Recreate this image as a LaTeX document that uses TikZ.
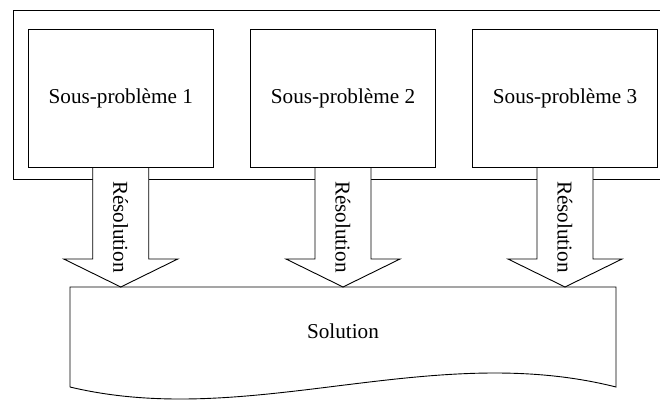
\documentclass[tikz,border=0pt]{standalone}
\usepackage{fontspec}
\setmainfont{Liberation Serif}
\begin{document}
\begin{tikzpicture}[x=1pt, y=-1pt,
    every node/.style={font=\fontsize{21.2}{25}\selectfont},
    sousprob/.style={draw, line width=0.9pt, minimum width=184.5pt, minimum height=138pt, inner sep=0pt},
    fleche/.style={draw, line width=0.9pt, fill=white}]
    \useasboundingbox (0,0) rectangle (660,399);

    % 外框
    \draw[line width=0.9pt] (690,10) -- (13,10) -- (13,179.5) -- (690,179.5);

    % 定義解答的位置
    \coordinate (SolNW) at (70,287);
    \coordinate (SolNE) at (616,287);
    \coordinate (SolSW) at (70,387);
    \coordinate (SolSE) at (616,387);

    % 定義子問題的位置
    \coordinate (C1) at (120.75,98);
    \coordinate (C2) at (343,98);
    \coordinate (C3) at (565,98);

    % 畫出箭頭
    \foreach \i in {1,2,3} {
        \path (C\i) ++(0,69) coordinate (B\i);
        \coordinate (T\i) at (B\i |- SolNW);
        \draw[fleche] ([xshift=-28pt]B\i) -- ([xshift=-28pt,yshift=28pt]T\i)
            -- ([xshift=-57pt,yshift=28pt]T\i) -- (T\i)
            -- ([xshift=57pt,yshift=28pt]T\i) -- ([xshift=28pt,yshift=28pt]T\i)
            -- ([xshift=28pt]B\i);
        \path (B\i) -- (T\i) node[midway, rotate=-90] (R\i) {Résolution};
    }

    % 畫出子問題
    \node[sousprob] (P1) at (C1) {Sous-problème 1};
    \node[sousprob] (P2) at (C2) {Sous-problème 2};
    \node[sousprob] (P3) at (C3) {Sous-problème 3};

    % 畫出解答
    \draw[line width=0.9pt] (SolSW) -- (SolNW) -- (SolNE) -- (SolSE)
        .. controls (430,340) and (250,430) .. (SolSW);
    \node (Sol) at (343,331) {Solution};
\end{tikzpicture}
\end{document}
